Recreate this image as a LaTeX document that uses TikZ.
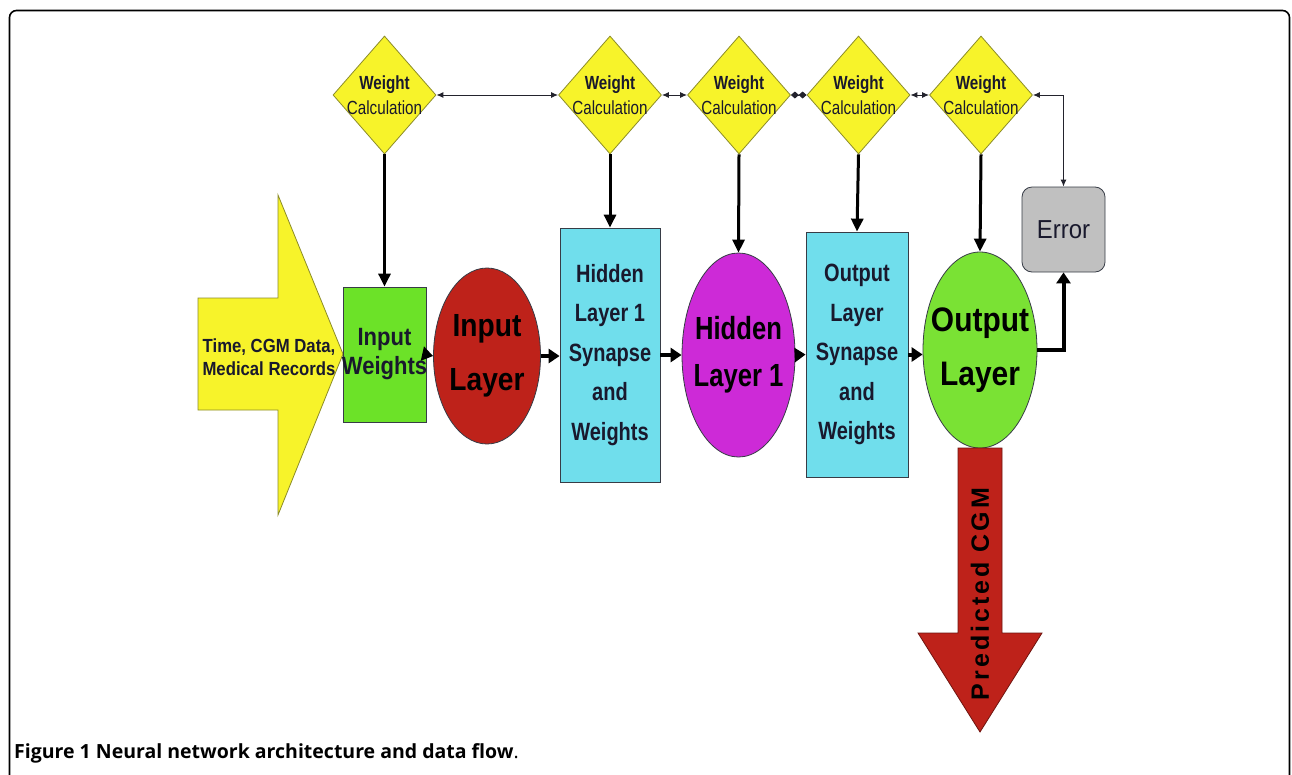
\documentclass[tikz,border=0pt]{standalone}
\usepackage{fontspec}
\setmainfont{Liberation Sans}
\newfontfamily\cnd[FakeStretch=0.8]{Liberation Sans}
\newfontfamily\cndm[FakeStretch=0.88]{Liberation Sans}
\newfontfamily\cndw[FakeStretch=0.92]{Liberation Sans}
\newfontfamily\spcfont[LetterSpace=12]{Liberation Sans}
\newfontfamily\capfont{Open Sans}
\usetikzlibrary{shapes.geometric,arrows.meta}
\definecolor{yel}{RGB}{247,243,42}
\definecolor{yelb}{RGB}{140,140,40}
\definecolor{grn}{RGB}{108,226,40}
\definecolor{grn2}{RGB}{122,226,52}
\definecolor{redc}{RGB}{190,34,26}
\definecolor{redb}{RGB}{110,20,15}
\definecolor{mag}{RGB}{205,42,215}
\definecolor{cyn}{RGB}{112,222,236}
\definecolor{gry}{RGB}{192,192,192}
\definecolor{bord}{RGB}{55,60,70}
\definecolor{txtc}{RGB}{25,25,45}
\begin{document}
\begin{tikzpicture}[x=1pt,y=-1pt,
  wcalc/.style={diamond, draw=yelb, line width=0.8pt, fill=yel, minimum width=103pt, minimum height=118pt, inner sep=0pt},
  calclbl/.style={align=center, inner sep=0pt, font=\cnd\fontsize{19}{25}\selectfont, text=txtc},
  ell/.style={ellipse, draw=bord, line width=0.8pt, inner sep=0pt},
  biglbl/.style={align=center, inner sep=0pt, text=black},
  sbox/.style={rectangle, draw=bord, line width=0.8pt, fill=cyn, inner sep=0pt, align=center, text=txtc, font=\cnd\bfseries\fontsize{25}{39.5}\selectfont},
  wbox/.style={rectangle, draw=bord, line width=0.8pt, inner sep=0pt},
  errbox/.style={rectangle, rounded corners=10pt, draw=bord, line width=0.8pt, fill=gry, minimum width=83pt, minimum height=85pt, inner sep=0pt, text=txtc, font=\cndw\fontsize{26}{30}\selectfont},
  conn/.style={draw={rgb,255:red,35;green,35;blue,45}, line width=1pt, arrows={Latex[length=7pt,width=6pt]-Latex[length=7pt,width=6pt]}},
  dconn/.style={draw={rgb,255:red,35;green,35;blue,45}, line width=1pt, arrows={Diamond[length=8pt,width=7pt]-Diamond[length=8pt,width=7pt]}},
  vdown/.style={line width=3pt, -{Triangle[length=13pt,width=12pt]}},
  hflow/.style={line width=4pt, -{Triangle[length=11pt,width=14pt]}}
]
\useasboundingbox (0,0) rectangle (1292,774);
\fill[white] (0,0) rectangle (1292,774);
% frame
\draw[line width=1.6pt, rounded corners=7pt] (9.5,800) -- (9.5,10.5) -- (1289.5,10.5) -- (1289.5,800);

% input arrow
\filldraw[fill=yel, draw=yelb, line width=0.8pt] (198,298) -- (278,298) -- (278,195) -- (343,354) -- (278,515) -- (278,410) -- (198,410) -- cycle;
\node[align=center, inner sep=0pt, text=txtc, font=\cndm\bfseries\fontsize{19}{23}\selectfont] (intxt) at (269,357) {Time, CGM Data,\\Medical Records};

% main row
\node[wbox, fill=grn, minimum width=83pt, minimum height=135pt,
  label={[align=center, inner sep=0pt, text=txtc, font=\cndm\bfseries\fontsize{25}{29}\selectfont]center:{Input\\Weights}}] (iw) at (384.5,354.5) {};
\node[ell, fill=redc, minimum width=107pt, minimum height=176pt,
  label={[biglbl, font=\cndm\bfseries\fontsize{32}{54}\selectfont]center:{Input\\Layer}}] (il) at (487,356) {};
\node[sbox, minimum width=100pt, minimum height=254pt] (hs) at (610,355) {Hidden\\Layer 1\\Synapse\\and\\Weights};
\node[ell, fill=mag, minimum width=113pt, minimum height=204pt,
  label={[biglbl, font=\cnd\bfseries\fontsize{32}{47}\selectfont]center:{Hidden\\Layer 1}}] (he) at (738.5,355) {};
\node[sbox, minimum width=102pt, minimum height=245pt] (os) at (857,354.5) {Output\\Layer\\Synapse\\and\\Weights};
\node[ell, fill=grn2, minimum width=114pt, minimum height=196pt,
  label={[biglbl, font=\cndm\bfseries\fontsize{34}{54}\selectfont]center:{Output\\Layer}}] (ol) at (980,350) {};
\node[errbox] (err) at (1063.5,229.5) {Error};

% diamonds
\node[wcalc, label={[calclbl]center:{\textbf{Weight}\\Calculation}}] (d1) at (384.5,95) {};
\node[wcalc, label={[calclbl]center:{\textbf{Weight}\\Calculation}}] (d2) at (610,95) {};
\node[wcalc, label={[calclbl]center:{\textbf{Weight}\\Calculation}}] (d3) at (739,95) {};
\node[wcalc, label={[calclbl]center:{\textbf{Weight}\\Calculation}}] (d4) at (858.5,95) {};
\node[wcalc, label={[calclbl]center:{\textbf{Weight}\\Calculation}}] (d5) at (981,95) {};

% top connectors
\draw[conn] (d1.east) -- (d2.west);
\draw[conn] (d2.east) -- (d3.west);
\draw[dconn] (d3.east) -- (d4.west);
\draw[conn] (d4.east) -- (d5.west);
\draw[conn] (err.north) |- (d5.east);

% vertical arrows
\draw[vdown] (d1.south) -- (iw.north);
\draw[vdown] (d2.south) -- (hs.north);
\draw[vdown] (d3.south) -- (he.north);
\draw[vdown] (d4.south) -- (os.north);
\draw[vdown] (d5.south) -- (ol.north);

% horizontal flow
\draw[hflow] (iw.east) -- (il.west);
\draw[hflow] (il.east) -- (hs.west |- il.east);
\draw[hflow] (hs.east) -- (he.west);
\draw[hflow] (he.east) -- (os.west);
\draw[hflow] (os.east) -- (ol.west |- os.east);
\draw[line width=4pt, -{Triangle[length=11pt,width=14pt]}] (ol.east) -| (err.south);

% output arrow
\filldraw[fill=redc, draw=redb, line width=0.8pt] (958,448) -- (1002,448) -- (1002,633) -- (1042,633) -- (980,732) -- (918,633) -- (958,633) -- cycle;
\node[rotate=90, inner sep=0pt, text=black, font=\spcfont\bfseries\fontsize{25}{28}\selectfont] (pcgm) at (980,594) {Predicted CGM};

% caption
\node[anchor=base west, inner sep=0pt, font=\capfont\fontsize{19.5}{23}\selectfont] (cap) at (14,758) {\textbf{Figure 1 Neural network architecture and data flow}.};
\end{tikzpicture}
\end{document}
